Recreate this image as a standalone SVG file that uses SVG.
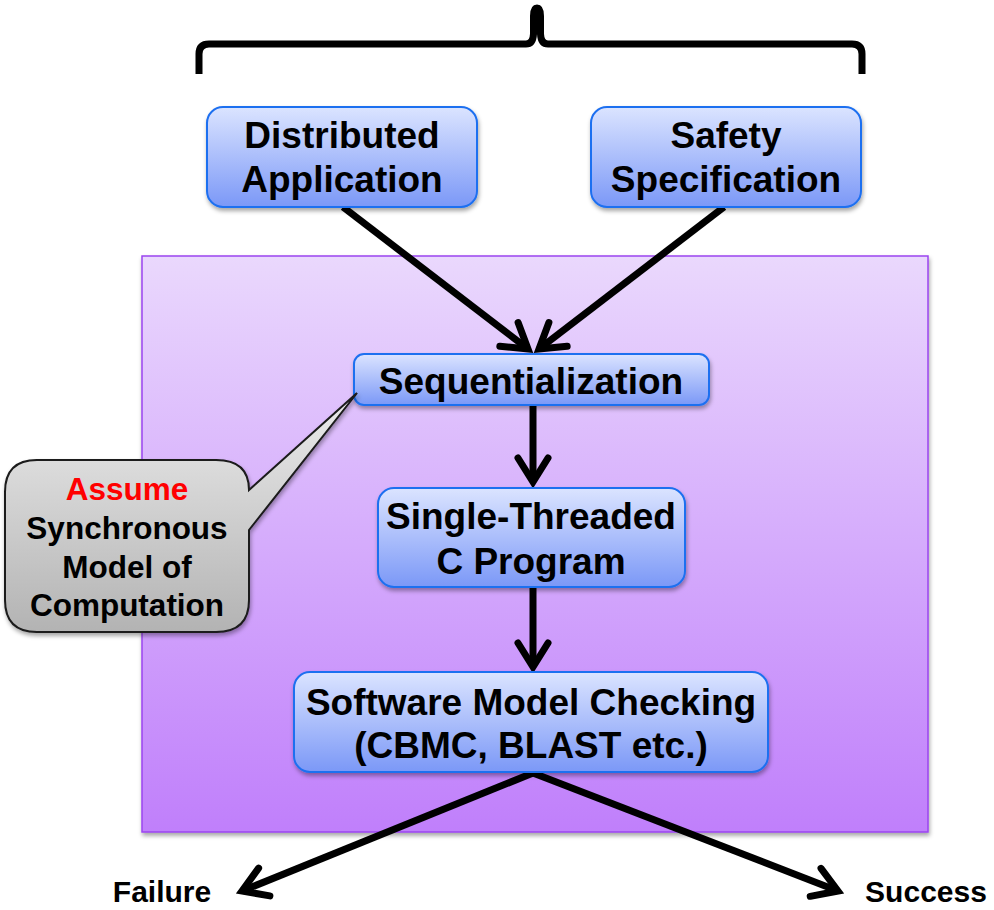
<svg xmlns="http://www.w3.org/2000/svg" width="994" height="910" viewBox="0 0 994 910">
<style>
text{font-family:"Liberation Sans",Arial,sans-serif;font-weight:bold;text-anchor:middle;fill:#000}
.t36{font-size:37px}
.t30{font-size:31.5px}
.box{fill:url(#gBlue);stroke:#1f6ff0;stroke-width:2;filter:url(#sh)}
.arr{stroke:#000;stroke-width:7;fill:none;marker-end:url(#ah)}
</style>
<defs>
<linearGradient id="gBlue" x1="0" y1="0" x2="0" y2="1">
<stop offset="0" stop-color="#dbe4ff"/>
<stop offset="1" stop-color="#7b98f7"/>
</linearGradient>
<linearGradient id="gPurple" x1="0" y1="0" x2="0" y2="1">
<stop offset="0" stop-color="#ead8fd"/>
<stop offset="1" stop-color="#c07ffb"/>
</linearGradient>
<linearGradient id="gGray" x1="0" y1="0" x2="0" y2="1">
<stop offset="0" stop-color="#ececec"/>
<stop offset="1" stop-color="#b3b3b3"/>
</linearGradient>
<filter id="sh" x="-10%" y="-10%" width="120%" height="130%">
<feDropShadow dx="1" dy="3" stdDeviation="2" flood-color="#000" flood-opacity="0.35"/>
</filter>
<marker id="ah" markerUnits="userSpaceOnUse" orient="auto" refX="0" refY="0" markerWidth="40" markerHeight="40" viewBox="-32 -20 40 40" overflow="visible">
<path d="M -24 -15 L 0 0 L -24 15" fill="none" stroke="#000" stroke-width="7" stroke-linecap="round" stroke-linejoin="miter"/>
</marker>
</defs>

<g id="brace">
<path d="M 199 74 L 199 54 Q 199 44 209 44 L 526 44 Q 533 44 533.5 34 L 533.5 16 Q 533.5 8 537 8 Q 540.5 8 540.5 16 L 540.5 34 Q 541 44 548 44 L 852 44 Q 862 44 862 54 L 862 74" fill="none" stroke="#000" stroke-width="7"/>
</g>

<g id="container">
<rect x="142" y="256" width="786" height="576" fill="url(#gPurple)" stroke="#9b45ef" stroke-width="1.5" filter="url(#sh)"/>
</g>

<g id="connectors">
<line class="arr" x1="343" y1="207" x2="528" y2="349"/>
<line class="arr" x1="724" y1="207" x2="539" y2="349"/>
<line class="arr" x1="533" y1="405" x2="533" y2="482"/>
<line class="arr" x1="533" y1="588" x2="533" y2="667"/>
<line class="arr" x1="533" y1="773" x2="242" y2="891"/>
<line class="arr" x1="533" y1="773" x2="838" y2="891"/>
</g>

<g id="distributed-application">
<rect class="box" x="207" y="107" width="270" height="100" rx="16"/>
<text class="t36" x="342" y="148">Distributed</text>
<text class="t36" x="342" y="192">Application</text>
</g>

<g id="safety-specification">
<rect class="box" x="591" y="107" width="270" height="100" rx="16"/>
<text class="t36" x="726" y="148">Safety</text>
<text class="t36" x="726" y="192">Specification</text>
</g>

<g id="sequentialization">
<rect class="box" x="354" y="354" width="355" height="51" rx="10"/>
<text class="t36" x="531" y="394">Sequentialization</text>
</g>

<g id="single-threaded">
<rect class="box" x="378" y="488" width="307" height="99" rx="16"/>
<text class="t36" x="531" y="529">Single-Threaded</text>
<text class="t36" x="531" y="574">C Program</text>
</g>

<g id="software-model-checking">
<rect class="box" x="294" y="672" width="474" height="100" rx="16"/>
<text class="t36" x="531" y="715">Software Model Checking</text>
<text class="t36" x="531" y="758">(CBMC, BLAST etc.)</text>
</g>

<g id="callout">
<path d="M 37 460 L 216 460 Q 249 460 249 490 L 357 393 L 249 530 L 249 600 Q 249 632 216 632 L 37 632 Q 5 632 5 600 L 5 492 Q 5 460 37 460 Z" fill="url(#gGray)" stroke="#1a1a1a" stroke-width="2" filter="url(#sh)"/>
<text class="t30" x="127" y="500" style="fill:#ff0000">Assume</text>
<text class="t30" x="127" y="539">Synchronous</text>
<text class="t30" x="127" y="578">Model of</text>
<text class="t30" x="127" y="616">Computation</text>
</g>

<g id="failure">
<text x="162" y="902" style="font-size:30px">Failure</text>
</g>
<g id="success">
<text x="926" y="902" style="font-size:30px">Success</text>
</g>
</svg>
